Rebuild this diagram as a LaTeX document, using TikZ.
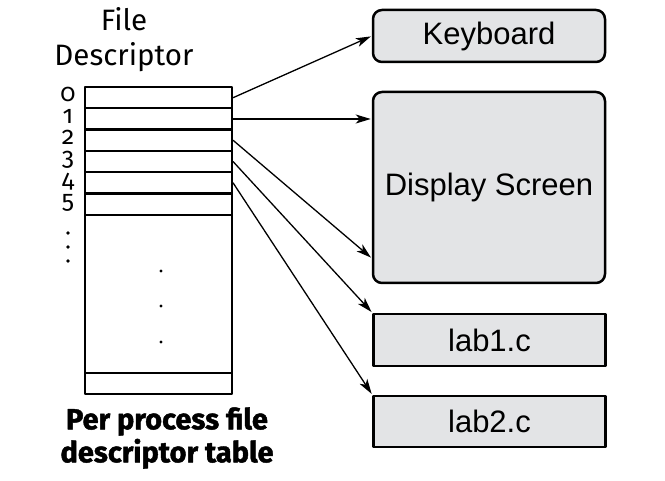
\documentclass[tikz,border=0pt]{standalone}
\usepackage{fontspec}
\setmainfont{Liberation Sans}
\newfontfamily\fdfont{Fira Sans}[Numbers=OldStyle]
\newfontfamily\capfont{Fira Sans}[BoldFeatures={FakeBold=1.5}]
\usetikzlibrary{arrows.meta,calc}
\definecolor{boxgray}{RGB}{227,228,230}
\begin{document}
\begin{tikzpicture}[x=1pt,y=-1pt,line join=round,line cap=round,>={Stealth[length=15pt,width=9pt,inset=4pt]},
	slot/.style={draw,line width=2.2pt,minimum width=147pt,minimum height=21.4pt,inner sep=0pt},
	dev/.style={draw,line width=2.5pt,fill=boxgray,rounded corners=9pt,minimum width=232pt,minimum height=52pt,inner sep=0pt,font=\fontsize{31}{36}\selectfont},
	fdnum/.style={font=\fdfont\fontsize{25}{27}\selectfont,inner sep=0pt},
	link/.style={->,line width=1.3pt,shorten >=1pt}]
	\useasboundingbox (0,0) rectangle (665,481);
	% per process table
	\foreach \i in {0,...,5}{
		\node[slot] (r\i) at (158.5,{97.7+21.3*\i}) {};
		\node[fdnum,anchor=base] (n\i) at (68,{102+21.3*\i}) {\i};
	}
	\node[slot,minimum height=158pt] (rest) at (158.5,294) {};
	\node[slot,minimum height=21pt] (last) at (158.5,383.5) {};
	\fill (68,233) circle (1.8pt) (68,247) circle (1.8pt) (68,261) circle (1.8pt);
	\fill (161,271) circle (1.6pt) (161,306) circle (1.6pt) (161,342) circle (1.6pt);
	\node[font=\fdfont\fontsize{29.5}{35}\selectfont,align=center,inner sep=0pt] (head) at (124,40) {File\\Descriptor};
	\node[font=\capfont\bfseries\fontsize{29}{33}\selectfont,align=center,inner sep=0pt] (cap) at (167,438) {Per process file\\descriptor table};
	% devices and files
	\node[dev] (kbd) at (489,36) {Keyboard};
	\node[dev,minimum height=191pt] (disp) at (489,187.5) {Display Screen};
	\node[dev,rounded corners=0pt] (lab1) at (489.5,340) {lab1.c};
	\node[dev,rounded corners=0pt,minimum height=51pt] (lab2) at (489.5,421.5) {lab2.c};
	\draw[link] (r0.east) -- (kbd.west);
	\draw[link] (r1.east) -- (r1.east -| disp.west);
	\draw[link] (r2.east) -- ($(disp.south west)+(0,-26)$);
	\draw[link] (r3.east) -- (lab1.north west);
	\draw[link] (r4.east) -- (lab2.north west);
\end{tikzpicture}
\end{document}
